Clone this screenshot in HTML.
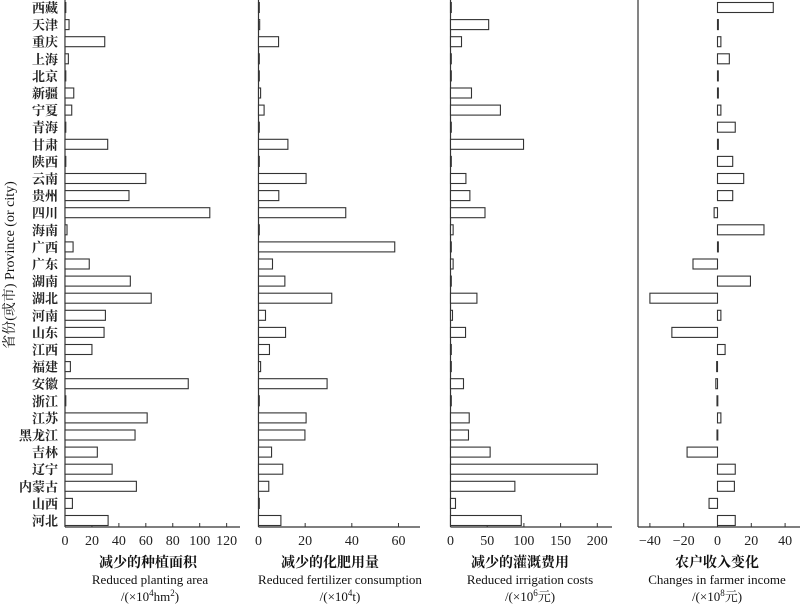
<!DOCTYPE html>
<html><head><meta charset="utf-8">
<style>
html,body{margin:0;padding:0;background:#fff;}
svg{display:block;font-family:"Liberation Serif","Noto Serif CJK SC",serif;}
</style></head>
<body>
<svg id="chart" width="800" height="604" viewBox="0 0 800 604" xmlns="http://www.w3.org/2000/svg">
<text transform="translate(14,265) rotate(-90)" text-anchor="middle" font-size="14" fill="#111">省份(或市) Province (or city)</text>
</svg>
<script>
const provinces = ["西藏","天津","重庆","上海","北京","新疆","宁夏","青海","甘肃","陕西","云南","贵州","四川","海南","广西","广东","湖南","湖北","河南","山东","江西","福建","安徽","浙江","江苏","黑龙江","吉林","辽宁","内蒙古","山西","河北"];
const plantingArea = [0.5,3,29.5,2.5,0,6.5,5,0,31.7,0,60,47.5,107.5,1.5,6,18,48.5,64,30,29,20,4,91.5,0,61,52,24,35,53,5.5,32];
const fertilizer = [0.3,0.5,8.6,0,0,0.9,2.4,0,12.6,0,20.4,8.7,37.4,0,58.4,6,11.3,31.4,3,11.6,4.7,0.9,29.4,0,20.4,19.9,5.6,10.4,4.4,0,9.6];
const irrigation = [0.3,52,15,0,0,28.6,68,1,99.5,0,21,26.4,47,3.6,0,3.6,0,36,2.7,20.5,0,0,17.7,0,25.5,24.5,54,200,87.7,6.8,96.4];
const income = [33,0.5,2,7,0,0.5,2,10.5,0.5,9,15.5,9,-2,27.5,0.5,-14.5,19.5,-40,2,-27,4.5,-0.5,-1,-0.3,2,-0.3,-18,10.5,10,-5,10.5];
const ticks1 = [0,20,40,60,80,100,120];
const ticks2 = [0,20,40,60];
const ticks3 = [0,50,100,150,200];
const ticks4 = [-40,-20,0,20,40];
const titlesCn = ["减少的种植面积","减少的化肥用量","减少的灌溉费用","农户收入变化"];
const titlesEn = ["Reduced planting area","Reduced fertilizer consumption","Reduced irrigation costs","Changes in farmer income"];
const units = ["/(×10<tspan baseline-shift='super' font-size='9'>4</tspan>hm<tspan baseline-shift='super' font-size='9'>2</tspan>)","/(×10<tspan baseline-shift='super' font-size='9'>4</tspan>t)","/(×10<tspan baseline-shift='super' font-size='9'>6</tspan>元)","/(×10<tspan baseline-shift='super' font-size='9'>8</tspan>元)"];
const cnCenters = [148, 330, 520, 717];
const enCenters = [150, 340, 530, 717];

const svg = document.getElementById('chart');
const NS = 'http://www.w3.org/2000/svg';
const AXIS_Y = 527, ROW0 = 7.5, ROWSTEP = 17.1, BARH = 10;
function yRow(i){ return ROW0 + ROWSTEP*i; }
function mk(tag, attrs){ const e=document.createElementNS(NS,tag); for(const k in attrs) e.setAttribute(k,attrs[k]); svg.appendChild(e); return e; }

const panels = [
 {vals:plantingArea, ticks:ticks1, axisX:65, zeroX:65, scale:1.347, endX:240, key:'planting-area'},
 {vals:fertilizer, ticks:ticks2, axisX:258.5, zeroX:258.5, scale:2.333, endX:420, key:'fertilizer'},
 {vals:irrigation, ticks:ticks3, axisX:450.5, zeroX:450.5, scale:0.734, endX:612, key:'irrigation'},
 {vals:income, ticks:ticks4, axisX:638, zeroX:717.5, scale:1.69, endX:800, key:'farmer-income'}
];

provinces.forEach((p,i)=>{
  const t = mk('text',{x:58,y:yRow(i)+5,'text-anchor':'end','font-size':'13','font-weight':'bold',fill:'#222'});
  
  
  t.textContent = p;
});

panels.forEach((pn,pi)=>{
  const xs = v => pn.zeroX + v*pn.scale;
  const va = mk('line',{x1:pn.axisX,y1:0,x2:pn.axisX,y2:AXIS_Y,stroke:'#333','stroke-width':1.2});
  
  
  const ha = mk('line',{x1:pn.axisX,y1:AXIS_Y,x2:pn.endX,y2:AXIS_Y,stroke:'#333','stroke-width':1.2});
  
  
  pn.ticks.forEach(tv=>{
    const tk = mk('line',{x1:xs(tv),y1:AXIS_Y,x2:xs(tv),y2:AXIS_Y-4,stroke:'#333','stroke-width':1});
    
    
    const tl = mk('text',{x:xs(tv),y:AXIS_Y+18,'text-anchor':'middle','font-size':'14',fill:'#222'});
    
    
    tl.textContent = String(tv).replace('-','−');
  });
  pn.vals.forEach((v,i)=>{
    const x0 = Math.min(xs(0), xs(v)), w = Math.abs(xs(v)-xs(0));
    const r = mk('rect',{x:x0,y:yRow(i)-BARH/2,width:Math.max(w,0.8),height:BARH,fill:'#fff',stroke:'#333','stroke-width':1.1});
    
    
  });
  const t1 = mk('text',{x:cnCenters[pi],y:567,'text-anchor':'middle','font-size':'14','font-weight':'bold',fill:'#111'});
  
  
  t1.textContent = titlesCn[pi];
  const t2 = mk('text',{x:enCenters[pi],y:584,'text-anchor':'middle','font-size':'13',fill:'#111'});
  
  
  t2.textContent = titlesEn[pi];
  const t3 = mk('text',{x:enCenters[pi],y:601,'text-anchor':'middle','font-size':'13',fill:'#111'});
  
  
  t3.innerHTML = units[pi];
});
</script>
</body></html>
